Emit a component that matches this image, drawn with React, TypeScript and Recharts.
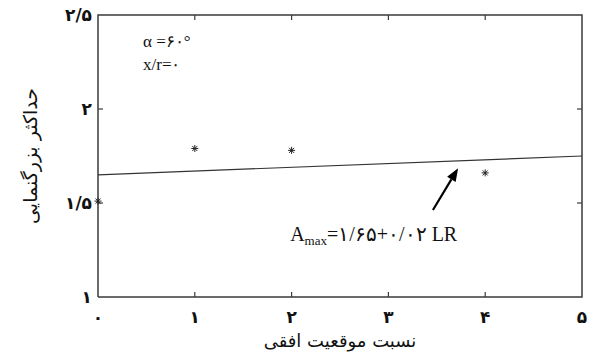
import React from 'react';
import { ScatterChart, Scatter, XAxis, YAxis, ReferenceDot, ReferenceLine } from 'recharts';

const xTicks = [0, 1, 2, 3, 4, 5];
const yTicks = [1, 1.5, 2, 2.5];
const xTickLabels = ['۰', '۱', '۲', '۳', '۴', '۵'];
const yTickLabels = ['۱', '۱/۵', '۲', '۲/۵'];
const measuredX = [0, 1, 2, 4];
const measuredY = [1.51, 1.79, 1.78, 1.66];
const fitX = [0, 5];
const fitY = [1.65, 1.75];

const measured = measuredX.map((x, i) => ({ x, y: measuredY[i] }));
const fit = fitX.map((x, i) => ({ x, y: fitY[i] }));

const xMin = xTicks[0];
const xMax = xTicks[xTicks.length - 1];
const yMin = yTicks[0];
const yMax = yTicks[yTicks.length - 1];

const frame = [
  { x: xMin, y: yMin },
  { x: xMax, y: yMin },
  { x: xMax, y: yMax },
  { x: xMin, y: yMax },
  { x: xMin, y: yMin },
];

const innerX = xTicks.slice(1, -1);
const innerY = yTicks.slice(1, -1);
const tickMarks = [
  ...innerX.map((x) => ({ x, y: yMin, side: 'b' })),
  ...innerX.map((x) => ({ x, y: yMax, side: 't' })),
  ...innerY.map((y) => ({ x: xMin, y, side: 'l' })),
  ...innerY.map((y) => ({ x: xMax, y, side: 'r' })),
];

const frameColor = '#3a3a3a';
const persianFont = '"DejaVu Sans", sans-serif';
const serif = '"Liberation Serif", "Times New Roman", serif';

const Asterisk = (p: any) => {
  const { cx, cy } = p;
  if (cx == null || cy == null) return null;
  const r = 3.5;
  const d = r * 0.72;
  return (
    <g stroke="#222" strokeWidth={1}>
      <line x1={cx - r} y1={cy} x2={cx + r} y2={cy} />
      <line x1={cx} y1={cy - r} x2={cx} y2={cy + r} />
      <line x1={cx - d} y1={cy - d} x2={cx + d} y2={cy + d} />
      <line x1={cx - d} y1={cy + d} x2={cx + d} y2={cy - d} />
    </g>
  );
};

const TickMark = (p: any) => {
  const { cx, cy, payload } = p;
  if (cx == null || cy == null) return <g />;
  const side = payload?.side;
  const L = 5;
  let x2 = cx;
  let y2 = cy;
  if (side === 'b') y2 = cy - L;
  if (side === 't') y2 = cy + L;
  if (side === 'l') x2 = cx + L;
  if (side === 'r') x2 = cx - L;
  return <line x1={cx} y1={cy} x2={x2} y2={y2} stroke={frameColor} strokeWidth={1.2} />;
};

const BottomTick = (p: any) => {
  const { x, y, payload } = p;
  return (
    <text x={x} y={y + 26} textAnchor="middle" fontFamily={persianFont} fontWeight="bold" fontSize={17} fill="#111">
      {xTickLabels[xTicks.indexOf(Number(payload.value))]}
    </text>
  );
};

const LeftTick = (p: any) => {
  const { x, y, payload } = p;
  return (
    <text x={x - 6} y={y + 6} textAnchor="end" fontFamily={persianFont} fontWeight="bold" fontSize={17} fill="#111">
      {yTickLabels[yTicks.indexOf(Number(payload.value))]}
    </text>
  );
};

const Arrow = (p: any) => {
  const { x1, y1, x2, y2 } = p;
  if ([x1, y1, x2, y2].some((v) => v == null || isNaN(v))) return null;
  const ang = Math.atan2(y2 - y1, x2 - x1);
  const len = 13;
  const w = 5;
  const bx = x2 - len * Math.cos(ang);
  const by = y2 - len * Math.sin(ang);
  const px = -Math.sin(ang) * w;
  const py = Math.cos(ang) * w;
  return (
    <g>
      <line x1={x1} y1={y1} x2={bx} y2={by} stroke="#000" strokeWidth={2.2} />
      <polygon points={`${x2},${y2} ${bx + px},${by + py} ${bx - px},${by - py}`} fill="#000" />
    </g>
  );
};

const TextAt = (content: React.ReactNode, size: number) => (p: any) => {
  const { cx, cy } = p;
  if (cx == null || cy == null) return null;
  return (
    <text x={cx} y={cy} fontFamily={serif} fontSize={size} fill="#111">
      {content}
    </text>
  );
};

export default function App() {
  return (
    <div style={{ position: 'absolute', left: 0, top: 0, width: 590, height: 358, background: '#fff' }}>
      <ScatterChart width={590} height={358} margin={{ top: 15, right: 8, bottom: 0, left: 0 }}>
        <XAxis
          xAxisId="b"
          type="number"
          dataKey="x"
          domain={[xMin, xMax]}
          ticks={xTicks}
          height={61}
          axisLine={false}
          tickLine={false}
          tickSize={0}
          tickMargin={0}
          tick={<BottomTick />}
          interval={0}
        />
        <YAxis
          yAxisId="l"
          type="number"
          dataKey="y"
          domain={[yMin, yMax]}
          ticks={yTicks}
          width={98}
          axisLine={false}
          tickLine={false}
          tickSize={0}
          tickMargin={0}
          tick={<LeftTick />}
          interval={0}
          label={{
            value: 'حداکثر بزرگنمایی',
            angle: -90,
            position: 'insideLeft',
            offset: 30,
            style: { fontFamily: persianFont, fontSize: 19, fill: '#111', textAnchor: 'middle' },
          }}
        />
        <Scatter
          xAxisId="b"
          yAxisId="l"
          data={frame}
          line={{ stroke: frameColor, strokeWidth: 1.5 }}
          shape={() => <g />}
          isAnimationActive={false}
        />
        <Scatter xAxisId="b" yAxisId="l" data={tickMarks} shape={<TickMark />} isAnimationActive={false} />
        <Scatter
          xAxisId="b"
          yAxisId="l"
          data={fit}
          line={{ stroke: '#333', strokeWidth: 1.2 }}
          shape={() => <g />}
          isAnimationActive={false}
        />
        <Scatter xAxisId="b" yAxisId="l" data={measured} shape={<Asterisk />} isAnimationActive={false} />
        <ReferenceLine
          xAxisId="b"
          yAxisId="l"
          segment={[
            { x: 3.46, y: 1.463 },
            { x: 3.72, y: 1.685 },
          ]}
          shape={<Arrow />}
        />
        <ReferenceDot xAxisId="b" yAxisId="l" x={0.465} y={2.33} r={0} shape={TextAt('α =۶۰°', 17)} />
        <ReferenceDot xAxisId="b" yAxisId="l" x={0.465} y={2.205} r={0} shape={TextAt('x/r=۰', 17)} />
        <ReferenceDot
          xAxisId="b"
          yAxisId="l"
          x={1.985}
          y={1.298}
          r={0}
          shape={TextAt(
            <>
              <tspan>A</tspan>
              <tspan fontSize={13} dy={4}>max</tspan>
              <tspan dy={-4}>=۱/۶۵+۰/۰۲ LR</tspan>
            </>,
            20
          )}
        />
      </ScatterChart>
      <div
        style={{
          position: 'absolute',
          left: 98,
          width: 484,
          top: 330,
          textAlign: 'center',
          fontFamily: persianFont,
          fontSize: 18,
          color: '#111',
          direction: 'rtl',
        }}
      >
        نسبت موقعیت افقی
      </div>
    </div>
  );
}
